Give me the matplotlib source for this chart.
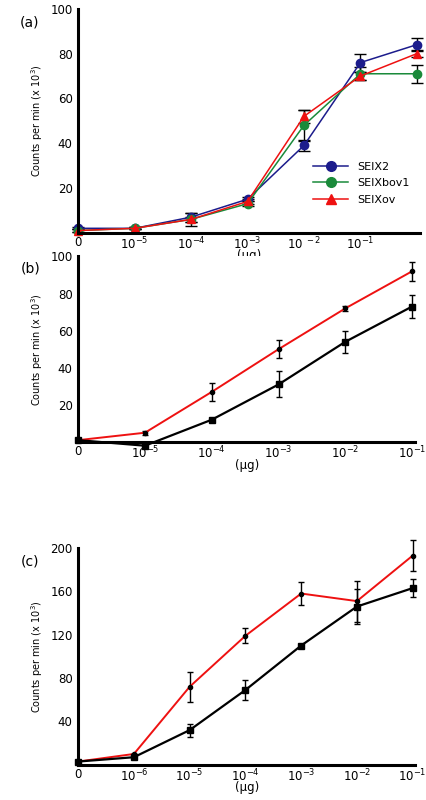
import matplotlib.pyplot as plt
from matplotlib.lines import Line2D
import numpy as np

# panel (a)
a_labels = ['0', '10$^{-5}$', '10$^{-4}$', '10$^{-3}$', '10$^{\\ -2}$', '10$^{-1}$', '']
a_seix2 = [2, 2, 7, 15, 39, 76, 84]
a_seix2_err = [0.5, 0.5, 2, 1, 2.5, 4, 3]
a_bov1 = [1, 2, 6, 13, 48, 71, 71]
a_bov1_err = [0.5, 0.5, 1, 1, 7, 3, 4]
a_ov = [1, 2, 6, 14, 52, 70, 80]
a_ov_err = [0.5, 0.5, 3, 1, 3, 2, 1.5]

# panel (b)
b_labels = ['0', '10$^{-5}$', '10$^{-4}$', '10$^{-3}$', '10$^{-2}$', '10$^{-1}$']
b_red = [1, 5, 27, 50, 72, 92]
b_red_err = [0, 1, 5, 5, 1.5, 5]
b_black = [1, -2, 12, 31, 54, 73]
b_black_err = [0, 0, 1, 7, 6, 6]

# panel (c)
c_labels = ['0', '10$^{-6}$', '10$^{-5}$', '10$^{-4}$', '10$^{-3}$', '10$^{-2}$', '10$^{-1}$']
c_red = [3, 10, 72, 119, 158, 151, 193]
c_red_err = [0, 0, 14, 7, 11, 19, 14]
c_black = [3, 7, 32, 69, 110, 146, 163]
c_black_err = [0, 0, 6, 9, 0, 16, 8]

fig = plt.figure(figsize=(4.27, 8), dpi=100)
ax_a = fig.add_axes([0.183, 0.709, 0.80, 0.280])
ax_b = fig.add_axes([0.183, 0.4475, 0.79, 0.232])
ax_c = fig.add_axes([0.183, 0.044, 0.79, 0.271])

def style(ax, labels, ymax, yticks, letter):
    ax.spines['top'].set_visible(False)
    ax.spines['right'].set_visible(False)
    ax.spines['left'].set_linewidth(2.2)
    ax.spines['bottom'].set_linewidth(2.2)
    ax.set_xticks(range(len(labels)))
    ax.set_xticklabels(labels, fontsize=8.5)
    ax.set_yticks(yticks)
    ax.tick_params(axis='y', length=0, labelsize=8.5, pad=4)
    ax.tick_params(axis='x', length=0, labelsize=8.5, pad=2)
    ax.set_ylim(0, ymax)
    ax.set_xlim(0, len(labels) - 1 + 0.05)
    ax.set_ylabel('Counts per min (x 10$^3$)', fontsize=7)
    ax.set_xlabel('(µg)', fontsize=8.5, labelpad=-2)
    ax.text(-0.17, 0.97, letter, transform=ax.transAxes, fontsize=10, va='top')

x = np.arange(7)
handles = []
for y, e, c, m, lab in [(a_seix2, a_seix2_err, '#1c1c8c', 'o', 'SEIX2'),
                        (a_bov1, a_bov1_err, '#1a8a3a', 'o', 'SEIXbov1'),
                        (a_ov, a_ov_err, '#ee1111', '^', 'SEIXov')]:
    ax_a.errorbar(x, y, yerr=e, color=c, marker=m, markersize=6, lw=1.1,
                  ecolor='black', elinewidth=1, capsize=4, clip_on=False)
    handles.append(Line2D([], [], color=c, marker=m, markersize=7, lw=1.1, label=lab))
style(ax_a, a_labels, 100, [20, 40, 60, 80, 100], '(a)')
ax_a.legend(handles=handles, loc='lower right', bbox_to_anchor=(1.0, 0.08), frameon=False,
            fontsize=8, handlelength=3.2, labelspacing=0.6)

xb = np.arange(6)
ax_b.errorbar(xb, b_red, yerr=b_red_err, color='#ee1111', marker='o', markersize=3,
              mfc='black', mec='black', lw=1.4, ecolor='black', elinewidth=1, capsize=2, clip_on=False)
ax_b.errorbar(xb, b_black, yerr=b_black_err, color='black', marker='s', markersize=5,
              lw=1.6, ecolor='black', elinewidth=1, capsize=2, clip_on=False)
style(ax_b, b_labels, 100, [20, 40, 60, 80, 100], '(b)')

ax_c.errorbar(x, c_red, yerr=c_red_err, color='#ee1111', marker='o', markersize=3,
              mfc='black', mec='black', lw=1.4, ecolor='black', elinewidth=1, capsize=2, clip_on=False)
ax_c.errorbar(x, c_black, yerr=c_black_err, color='black', marker='s', markersize=5,
              lw=1.6, ecolor='black', elinewidth=1, capsize=2, clip_on=False)
style(ax_c, c_labels, 200, [40, 80, 120, 160, 200], '(c)')

fig.savefig('out.png', dpi=100)
